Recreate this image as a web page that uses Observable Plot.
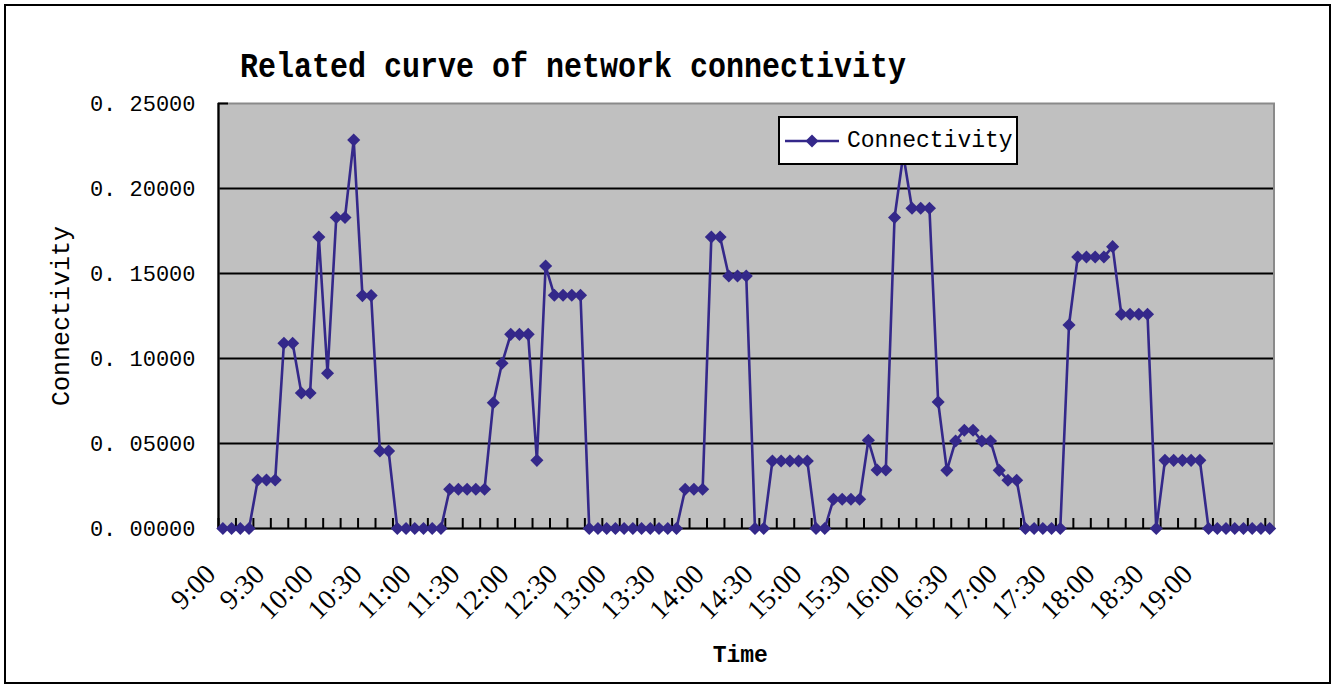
<!DOCTYPE html>
<html>
<head>
<meta charset="utf-8">
<script src="https://cdn.jsdelivr.net/npm/d3@7"></script>
<script src="https://cdn.jsdelivr.net/npm/@observablehq/plot@0.6"></script>
<style>
  html, body { margin: 0; padding: 0; background: #fff; }
  #wrap { position: relative; width: 1335px; height: 687px; overflow: hidden; }
  #border { position: absolute; left: 4px; top: 4px; width: 1323px; height: 676px; border: 2px solid #000; box-sizing: content-box; pointer-events: none; }
  #title { position: absolute; left: 240px; top: 48px; font-family: "Liberation Mono", monospace; font-size: 30px; font-weight: bold; color: #000; white-space: nowrap; transform: scale(1, 1.15); transform-origin: left top; }
  #legend { position: absolute; left: 778px; top: 116px; width: 236px; height: 45px; background: #fff; border: 2px solid #000; display: flex; align-items: center; }
  #legend span { font-family: "Liberation Mono", monospace; font-size: 23px; color: #000; margin-left: 6px; }
  #chart { position: absolute; left: 0; top: 0; }
</style>
</head>
<body>
<div id="wrap">
  <div id="chart"></div>
  <div id="title">Related curve of network connectivity</div>
  <div id="legend">
    <svg width="58" height="20" style="margin-left:3px">
      <line x1="2" y1="10" x2="56" y2="10" stroke="#34288a" stroke-width="2.5"></line>
      <path d="M29,3.5L35.5,10L29,16.5L22.5,10Z" fill="#34288a"></path>
    </svg>
    <span>Connectivity</span>
  </div>
  <div id="border"></div>
</div>
<script>
// Connectivity sampled every 5 minutes from 9:00 to 19:00 (121 samples)
const connectivity = [
  0, 0, 0, 0, 0.0285, 0.0285, 0.0285, 0.109, 0.109, 0.0797,
  0.0797, 0.1715, 0.0913, 0.1829, 0.1829, 0.2285, 0.137, 0.137, 0.0456, 0.0456,
  0, 0, 0, 0, 0, 0, 0.0231, 0.0231, 0.0231, 0.0231,
  0.0231, 0.074, 0.0972, 0.1142, 0.1142, 0.1142, 0.0401, 0.1544, 0.1372, 0.1372,
  0.1372, 0.1372, 0, 0, 0, 0, 0, 0, 0, 0,
  0, 0, 0, 0.0231, 0.0231, 0.0231, 0.1715, 0.1715, 0.1485, 0.1485,
  0.1485, 0, 0, 0.0397, 0.0397, 0.0397, 0.0397, 0.0397, 0, 0,
  0.0172, 0.0172, 0.0172, 0.0172, 0.0519, 0.0344, 0.0344, 0.1829, 0.22, 0.1884,
  0.1884, 0.1884, 0.0744, 0.0342, 0.0515, 0.0578, 0.0578, 0.0515, 0.0515, 0.0342,
  0.0284, 0.0284, 0, 0, 0, 0, 0, 0.1197, 0.1597, 0.1597,
  0.1597, 0.1597, 0.1658, 0.126, 0.126, 0.126, 0.126, 0, 0.0401, 0.0401,
  0.0401, 0.0401, 0.0401, 0, 0, 0, 0, 0, 0, 0,
  0
];
const timeLabels = ["9:00","9:30","10:00","10:30","11:00","11:30","12:00","12:30","13:00","13:30",
  "14:00","14:30","15:00","15:30","16:00","16:30","17:00","17:30","18:00","18:30","19:00"];
const yTicks = [0, 0.05, 0.10, 0.15, 0.20, 0.25];
const seriesName = "Connectivity";

const data = connectivity.map((v, i) => ({i, v}));
const n = connectivity.length;
// category-axis tick marks every second category boundary
const xTickMarks = d3.range(-0.5, n, 2);
// label placement as drawn in the reference (evenly spread along the axis)
const LABEL_STEP = 5.6;
const labelData = timeLabels.map((t, k) => ({t, pos: k * LABEL_STEP}));

const color = "#34288a";
const mono = "Liberation Mono, monospace";
const serif = "Liberation Serif, serif";
const frameH = 687 - 103 - 159;
const frameW = 1335 - 218 - 61.5;

const chart = Plot.plot({
  width: 1335,
  height: 687,
  marginLeft: 218,
  marginRight: 61.5,
  marginTop: 103,
  marginBottom: 159,
  style: {fontFamily: mono, fontSize: "22px", background: "transparent", color: "#000"},
  x: {domain: [-0.5, n - 0.5], axis: null},
  y: {domain: [0, 0.25], axis: null},
  marks: [
    Plot.frame({fill: "#c0c0c0"}),
    Plot.ruleY(yTicks.filter(d => d > 0 && d < 0.25), {stroke: "#000", strokeWidth: 2.2}),
    Plot.frame({stroke: "#8a8a8a", strokeWidth: 2}),
    Plot.ruleX(xTickMarks, {insetTop: frameH - 10, stroke: "#000", strokeWidth: 2}),
    Plot.ruleY([0.25], {insetRight: frameW - 10, stroke: "#000", strokeWidth: 2}),
    Plot.ruleY([0], {stroke: "#000", strokeWidth: 2.2}),
    Plot.ruleX([-0.5], {stroke: "#000", strokeWidth: 2.2}),
    Plot.axisY({ticks: yTicks, tickSize: 0, tickPadding: 23, label: null,
      tickFormat: d => d.toFixed(5).replace(".", ". "), fontSize: 22, fontFamily: mono}),
    Plot.text(labelData, {x: "pos", y: 0, text: "t", rotate: -45, textAnchor: "end", dx: -12, dy: 41, fontSize: 28, fontFamily: serif}),
    Plot.line(data, {x: "i", y: "v", stroke: color, strokeWidth: 2.6}),
    Plot.dot(data, {x: "i", y: "v", symbol: "diamond2", r: 5.9, fill: color, stroke: "none"}),
    Plot.text([seriesName], {frameAnchor: "left", textAnchor: "middle", dx: -158, rotate: -90, fontSize: 25, fontFamily: mono}),
    Plot.text(["Time"], {frameAnchor: "bottom", textAnchor: "middle", dx: -6, dy: 133, fontSize: 23, fontWeight: "bold", fontFamily: mono})
  ]
});
document.getElementById("chart").appendChild(chart);
</script>
</body>
</html>
